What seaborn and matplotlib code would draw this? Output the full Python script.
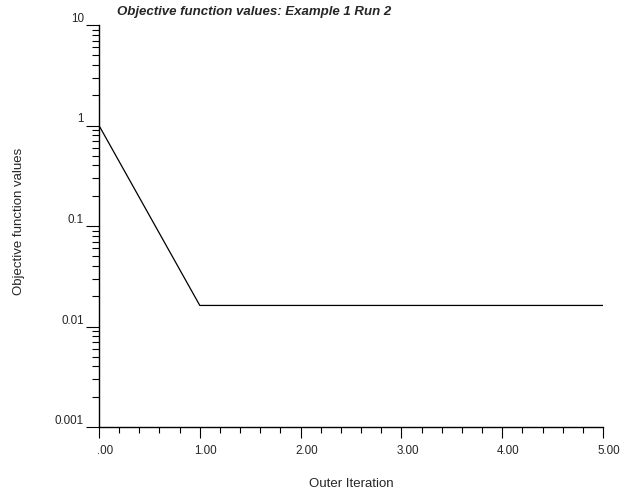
import matplotlib
matplotlib.use("Agg")
import matplotlib.pyplot as plt
import matplotlib.ticker as mticker
import matplotlib.transforms as mtransforms
import numpy as np
import pandas as pd
import seaborn as sns

# Objective function history per outer iteration
iterations = [0, 1, 2, 3, 4, 5]
objective_values = [1.0, 0.0162, 0.0162, 0.0162, 0.0162, 0.0162]

x_ticks = [0, 1, 2, 3, 4, 5]
x_tick_labels = [".00", "1.00", "2.00", "3.00", "4.00", "5.00"]
y_ticks = [10, 1, 0.1, 0.01, 0.001]
y_tick_labels = ["10", "1", "0.1", "0.01", "0.001"]

sns.set_theme(style="white")
plt.rcParams["font.family"] = ["Liberation Sans", "DejaVu Sans"]

df = pd.DataFrame({"iter": iterations, "obj": objective_values})

fig = plt.figure(figsize=(6.2, 4.93), dpi=100)
ax = fig.add_axes([99 / 620, 1 - 427 / 493, (603 - 99) / 620, (427 - 25) / 493])

sns.lineplot(data=df, x="iter", y="obj", ax=ax, color="black", linewidth=0.9)

ax.set_yscale("log")
ax.set_ylim(0.001, 10)
ax.set_xlim(0, 5)

for side in ("top", "right"):
    ax.spines[side].set_visible(False)
for side in ("left", "bottom"):
    ax.spines[side].set_color("black")
    ax.spines[side].set_linewidth(1.0)

# x axis: major ticks at integers, minor every 0.2
ax.set_xticks(x_ticks)
ax.set_xticklabels(x_tick_labels)
ax.xaxis.set_minor_locator(mticker.MultipleLocator(0.2))
ax.tick_params(axis="x", which="major", direction="out", length=8, width=0.8,
               color="black", labelsize=8.4, pad=5, bottom=True)
ax.tick_params(axis="x", which="minor", direction="out", length=4.3, width=0.8,
               color="black", bottom=True)
offset = mtransforms.ScaledTranslation(6 / 100, 0, fig.dpi_scale_trans)
for lbl in ax.get_xticklabels():
    lbl.set_transform(lbl.get_transform() + offset)

# y axis: decades with log minor ticks
ax.set_yticks(y_ticks)
ax.set_yticklabels(y_tick_labels)
ax.yaxis.set_minor_locator(mticker.LogLocator(base=10, subs=np.arange(2, 10)))
ax.yaxis.set_minor_formatter(mticker.NullFormatter())
ax.tick_params(axis="y", which="major", direction="out", length=9.4, width=0.8,
               color="black", labelsize=8.4, pad=1.5, left=True)
ax.tick_params(axis="y", which="minor", direction="out", length=5, width=0.8,
               color="black", left=True)
for lbl in ax.get_yticklabels():
    lbl.set_verticalalignment("bottom")

ax.set_xlabel("Outer Iteration", fontsize=9.5)
ax.xaxis.set_label_coords(0.5, -0.127)
ax.set_ylabel("Objective function values", fontsize=9.5)
ax.yaxis.set_label_coords(-0.146, 0.511)

fig.text(117 / 620, 1 - 12 / 493, "Objective function values: Example 1 Run 2",
         fontsize=9.5, fontweight="bold", fontstyle="italic", ha="left", va="center")

ax.grid(False)
fig.savefig("out.png", dpi=100, facecolor="white")
